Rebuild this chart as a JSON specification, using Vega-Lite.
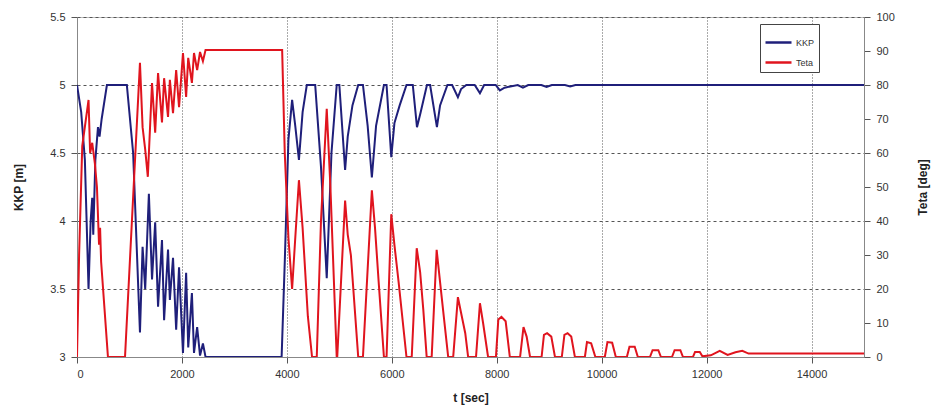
{
  "$schema": "https://vega.github.io/schema/vega-lite/v6.json",
  "width": 787,
  "height": 340,
  "autosize": {"type": "none"},
  "padding": {"left": 77, "top": 17, "right": 69, "bottom": 50},
  "background": "white",
  "config": {
    "font": "Liberation Sans",
    "view": {"stroke": "#bbbbbb", "strokeWidth": 1},
    "axis": {"labelFont": "Liberation Sans", "titleFont": "Liberation Sans", "labelFontSize": 11, "labelColor": "#333333", "titleFontSize": 12, "titleFontWeight": "bold", "titleColor": "#222222", "domainColor": "#888888", "tickColor": "#555555", "tickSize": 6}
  },
  "datasets": {
    "kkp": [
      {"t": 0, "KKP": 5.0}, {"t": 80, "KKP": 4.8}, {"t": 150, "KKP": 4.45}, {"t": 220, "KKP": 3.5}, {"t": 260, "KKP": 4.0}, {"t": 290, "KKP": 4.17}, {"t": 310, "KKP": 3.9}, {"t": 350, "KKP": 4.45}, {"t": 400, "KKP": 4.69}, {"t": 430, "KKP": 4.62}, {"t": 470, "KKP": 4.75}, {"t": 570, "KKP": 5.0}, {"t": 950, "KKP": 5.0}, {"t": 1070, "KKP": 4.5}, {"t": 1200, "KKP": 3.18}, {"t": 1250, "KKP": 3.81}, {"t": 1300, "KKP": 3.5}, {"t": 1370, "KKP": 4.2}, {"t": 1430, "KKP": 3.57}, {"t": 1490, "KKP": 3.99}, {"t": 1545, "KKP": 3.37}, {"t": 1620, "KKP": 3.86}, {"t": 1660, "KKP": 3.27}, {"t": 1735, "KKP": 3.79}, {"t": 1770, "KKP": 3.42}, {"t": 1830, "KKP": 3.73}, {"t": 1890, "KKP": 3.2}, {"t": 1945, "KKP": 3.66}, {"t": 2020, "KKP": 3.03}, {"t": 2080, "KKP": 3.62}, {"t": 2120, "KKP": 3.07}, {"t": 2190, "KKP": 3.47}, {"t": 2230, "KKP": 3.03}, {"t": 2290, "KKP": 3.22}, {"t": 2345, "KKP": 3.01}, {"t": 2400, "KKP": 3.1}, {"t": 2450, "KKP": 3.0}, {"t": 3900, "KKP": 3.0}, {"t": 3960, "KKP": 3.7}, {"t": 4030, "KKP": 4.6}, {"t": 4100, "KKP": 4.89}, {"t": 4160, "KKP": 4.7}, {"t": 4230, "KKP": 4.45}, {"t": 4300, "KKP": 4.8}, {"t": 4380, "KKP": 5.0}, {"t": 4540, "KKP": 5.0}, {"t": 4650, "KKP": 4.4}, {"t": 4760, "KKP": 3.58}, {"t": 4850, "KKP": 4.5}, {"t": 4950, "KKP": 5.0}, {"t": 5000, "KKP": 5.0}, {"t": 5110, "KKP": 4.375}, {"t": 5160, "KKP": 4.62}, {"t": 5250, "KKP": 4.85}, {"t": 5360, "KKP": 5.0}, {"t": 5450, "KKP": 5.0}, {"t": 5540, "KKP": 4.7}, {"t": 5620, "KKP": 4.32}, {"t": 5700, "KKP": 4.7}, {"t": 5850, "KKP": 5.0}, {"t": 5900, "KKP": 5.0}, {"t": 5990, "KKP": 4.47}, {"t": 6050, "KKP": 4.72}, {"t": 6150, "KKP": 4.85}, {"t": 6280, "KKP": 5.0}, {"t": 6400, "KKP": 5.0}, {"t": 6480, "KKP": 4.69}, {"t": 6550, "KKP": 4.8}, {"t": 6670, "KKP": 5.0}, {"t": 6730, "KKP": 5.0}, {"t": 6860, "KKP": 4.69}, {"t": 6920, "KKP": 4.85}, {"t": 7060, "KKP": 5.0}, {"t": 7150, "KKP": 5.0}, {"t": 7260, "KKP": 4.91}, {"t": 7320, "KKP": 4.97}, {"t": 7420, "KKP": 5.0}, {"t": 7580, "KKP": 5.0}, {"t": 7680, "KKP": 4.94}, {"t": 7760, "KKP": 5.0}, {"t": 7980, "KKP": 5.0}, {"t": 8060, "KKP": 4.96}, {"t": 8150, "KKP": 4.98}, {"t": 8400, "KKP": 5.0}, {"t": 8500, "KKP": 4.98}, {"t": 8600, "KKP": 5.0}, {"t": 8850, "KKP": 5.0}, {"t": 8950, "KKP": 4.985}, {"t": 9050, "KKP": 5.0}, {"t": 9300, "KKP": 5.0}, {"t": 9400, "KKP": 4.99}, {"t": 9500, "KKP": 5.0}, {"t": 15000, "KKP": 5.0}
    ],
    "teta": [
      {"t": 0, "Teta": 0}, {"t": 40, "Teta": 30}, {"t": 100, "Teta": 62}, {"t": 220, "Teta": 75.6}, {"t": 250, "Teta": 60}, {"t": 290, "Teta": 63}, {"t": 340, "Teta": 57}, {"t": 380, "Teta": 50}, {"t": 420, "Teta": 33}, {"t": 440, "Teta": 38}, {"t": 460, "Teta": 28}, {"t": 590, "Teta": 0}, {"t": 915, "Teta": 0}, {"t": 1200, "Teta": 86.5}, {"t": 1250, "Teta": 67.6}, {"t": 1300, "Teta": 61}, {"t": 1350, "Teta": 53}, {"t": 1430, "Teta": 80.6}, {"t": 1490, "Teta": 66}, {"t": 1545, "Teta": 83.5}, {"t": 1620, "Teta": 69}, {"t": 1660, "Teta": 82}, {"t": 1735, "Teta": 70.6}, {"t": 1770, "Teta": 81.5}, {"t": 1830, "Teta": 71.7}, {"t": 1890, "Teta": 84.4}, {"t": 1945, "Teta": 73.5}, {"t": 2020, "Teta": 89.4}, {"t": 2080, "Teta": 76.5}, {"t": 2120, "Teta": 88}, {"t": 2190, "Teta": 80.6}, {"t": 2230, "Teta": 89.4}, {"t": 2290, "Teta": 84.4}, {"t": 2345, "Teta": 89.7}, {"t": 2400, "Teta": 87}, {"t": 2450, "Teta": 90.3}, {"t": 3910, "Teta": 90.3}, {"t": 3960, "Teta": 60}, {"t": 4030, "Teta": 35}, {"t": 4100, "Teta": 20}, {"t": 4160, "Teta": 35}, {"t": 4230, "Teta": 52}, {"t": 4300, "Teta": 38}, {"t": 4400, "Teta": 12}, {"t": 4480, "Teta": 0}, {"t": 4570, "Teta": 0}, {"t": 4650, "Teta": 40}, {"t": 4760, "Teta": 73}, {"t": 4830, "Teta": 50}, {"t": 4950, "Teta": 0}, {"t": 4960, "Teta": 0}, {"t": 5110, "Teta": 46}, {"t": 5160, "Teta": 36}, {"t": 5220, "Teta": 30}, {"t": 5360, "Teta": 0}, {"t": 5450, "Teta": 0}, {"t": 5620, "Teta": 49}, {"t": 5680, "Teta": 38}, {"t": 5750, "Teta": 22}, {"t": 5850, "Teta": 0}, {"t": 5900, "Teta": 0}, {"t": 5990, "Teta": 42}, {"t": 6050, "Teta": 33}, {"t": 6130, "Teta": 22}, {"t": 6280, "Teta": 0}, {"t": 6380, "Teta": 0}, {"t": 6475, "Teta": 32}, {"t": 6540, "Teta": 25}, {"t": 6600, "Teta": 14}, {"t": 6665, "Teta": 0}, {"t": 6760, "Teta": 0}, {"t": 6855, "Teta": 31.5}, {"t": 6920, "Teta": 22}, {"t": 6990, "Teta": 12}, {"t": 7075, "Teta": 0}, {"t": 7170, "Teta": 0}, {"t": 7260, "Teta": 17.6}, {"t": 7320, "Teta": 13}, {"t": 7400, "Teta": 7}, {"t": 7455, "Teta": 0}, {"t": 7605, "Teta": 0}, {"t": 7680, "Teta": 15.8}, {"t": 7740, "Teta": 10}, {"t": 7835, "Teta": 0}, {"t": 7985, "Teta": 0}, {"t": 8030, "Teta": 11}, {"t": 8090, "Teta": 11.8}, {"t": 8170, "Teta": 10.5}, {"t": 8250, "Teta": 0}, {"t": 8445, "Teta": 0}, {"t": 8510, "Teta": 8.8}, {"t": 8570, "Teta": 6}, {"t": 8635, "Teta": 0}, {"t": 8855, "Teta": 0}, {"t": 8900, "Teta": 6.5}, {"t": 8960, "Teta": 7}, {"t": 9040, "Teta": 6}, {"t": 9110, "Teta": 0}, {"t": 9240, "Teta": 0}, {"t": 9290, "Teta": 6.5}, {"t": 9350, "Teta": 7}, {"t": 9420, "Teta": 6}, {"t": 9490, "Teta": 0}, {"t": 9680, "Teta": 0}, {"t": 9720, "Teta": 4.4}, {"t": 9800, "Teta": 4}, {"t": 9880, "Teta": 0}, {"t": 10060, "Teta": 0}, {"t": 10110, "Teta": 4.4}, {"t": 10200, "Teta": 4.2}, {"t": 10270, "Teta": 0}, {"t": 10480, "Teta": 0}, {"t": 10530, "Teta": 3}, {"t": 10630, "Teta": 3}, {"t": 10690, "Teta": 0}, {"t": 10920, "Teta": 0}, {"t": 10970, "Teta": 2}, {"t": 11080, "Teta": 2}, {"t": 11130, "Teta": 0}, {"t": 11340, "Teta": 0}, {"t": 11390, "Teta": 2}, {"t": 11500, "Teta": 2}, {"t": 11550, "Teta": 0}, {"t": 11740, "Teta": 0}, {"t": 11780, "Teta": 1.5}, {"t": 11870, "Teta": 1.5}, {"t": 11920, "Teta": 0.2}, {"t": 12080, "Teta": 0.5}, {"t": 12250, "Teta": 1.8}, {"t": 12400, "Teta": 0.6}, {"t": 12550, "Teta": 1.4}, {"t": 12680, "Teta": 1.8}, {"t": 12800, "Teta": 1.0}, {"t": 15000, "Teta": 1.0}
    ]
  },
  "layer": [
    {
      "data": {"name": "kkp"},
      "mark": {"type": "line", "strokeWidth": 2, "clip": true},
      "encoding": {
        "x": {"field": "t", "type": "quantitative", "scale": {"domain": [0, 15000], "nice": false},
          "axis": {"title": "t [sec]", "values": [0, 2000, 4000, 6000, 8000, 10000, 12000, 14000], "format": "d", "grid": true, "gridDash": [1, 2], "gridColor": "#555555", "gridWidth": 1, "labelPadding": 5, "titlePadding": 13}},
        "y": {"field": "KKP", "type": "quantitative", "scale": {"domain": [3, 5.5], "nice": false, "zero": false},
          "axis": {"title": "KKP [m]", "orient": "left", "values": [3, 3.5, 4, 4.5, 5, 5.5], "format": "~g", "grid": true, "gridDash": [3, 3], "gridColor": "#555555", "labelPadding": 6, "titlePadding": 24}},
        "color": {"datum": "KKP", "type": "nominal",
          "scale": {"domain": ["KKP", "Teta"], "range": ["#1f1f7a", "#e0141e"]},
          "legend": {"title": null, "orient": "none", "legendX": 683, "legendY": 7, "symbolType": "stroke", "symbolSize": 676, "symbolStrokeWidth": 2.5, "labelFontSize": 9, "labelColor": "#333333", "strokeColor": "#444444", "padding": 4, "rowPadding": -3, "labelOffset": 3, "fillColor": "white"}}
      }
    },
    {
      "data": {"name": "teta"},
      "mark": {"type": "line", "strokeWidth": 2, "clip": true},
      "encoding": {
        "x": {"field": "t", "type": "quantitative"},
        "y": {"field": "Teta", "type": "quantitative", "scale": {"domain": [0, 100], "nice": false},
          "axis": {"title": "Teta [deg]", "orient": "right", "values": [0, 10, 20, 30, 40, 50, 60, 70, 80, 90, 100], "grid": false, "titleAngle": 270, "labelPadding": 6, "titlePadding": 35}},
        "color": {"datum": "Teta", "type": "nominal"}
      }
    }
  ],
  "resolve": {"scale": {"y": "independent"}}
}
